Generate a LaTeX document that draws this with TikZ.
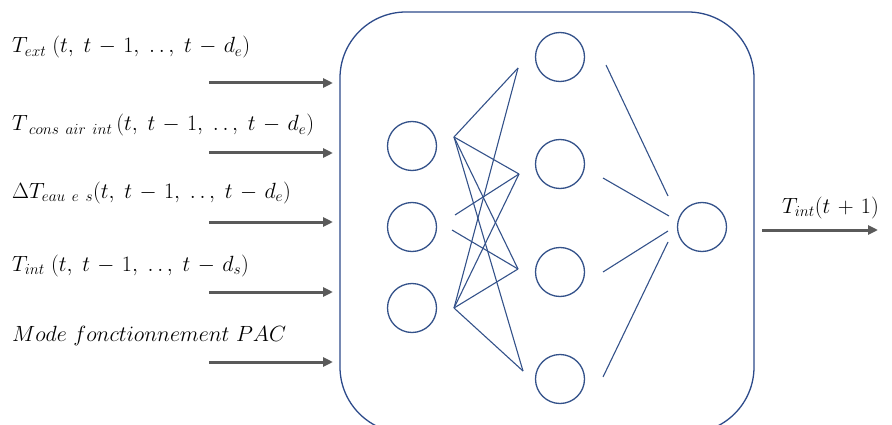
\RequirePackage{fix-cm}
\documentclass[tikz,border=0pt]{standalone}
\usetikzlibrary{arrows.meta}
\definecolor{netblue}{HTML}{34528A}
\definecolor{boxblue}{HTML}{2C4A8A}
\definecolor{arrgray}{HTML}{5A5A5A}
\newcommand{\seqe}[1]{(t,\;t-1,\;.\,.\,,\;t-d_{#1})}
\newcommand{\lblfont}{\fontsize{22}{26}\selectfont\medmuskip=6mu\relax}
\begin{document}
\begin{tikzpicture}[x=1pt,y=-1pt,
  neuron/.style={circle,draw=netblue,line width=1.3pt,minimum size=49pt,inner sep=0pt},
  wire/.style={draw=netblue,line width=1.1pt},
  inarrow/.style={draw=arrgray,line width=3pt,-{Triangle[length=10pt,width=9pt]}},
  lbl/.style={anchor=base west,inner sep=0pt,font=\lblfont}]
\useasboundingbox (0,0) rectangle (892,425);
% container
\node[draw=boxblue,line width=1.3pt,rounded corners=66pt,minimum width=414pt,minimum height=421pt,inner sep=0pt] (box) at (547,222.5) {};
% labels
\node[lbl] (l1) at (12,53) {$T_{ext}\;\seqe{e}$};
\node[lbl] (l2) at (12,131) {$T_{\;cons\ air\ int}\,\seqe{e}$};
\node[lbl] (l3) at (12,198) {$\Delta T_{eau\ e\ s}\seqe{e}$};
\node[lbl] (l4) at (12,271) {$T_{int}\;\seqe{s}$};
\node[lbl] (l5) at (12,341) {$Mode\ fonctionnement\ PAC$};
\node[lbl] (lo) at (782,213) {$T_{int}(t+1)$};
% input arrows
\foreach \k/\y in {1/83,2/153,3/222,4/292,5/362}{
  \coordinate (a\k s) at (209,\y);
  \coordinate (a\k e) at (333,\y);
  \draw[inarrow] (a\k s) -- (a\k e);
}
% output arrow
\coordinate (os) at (762,230);
\coordinate (oe) at (878,230);
\draw[inarrow] (os) -- (oe);
% neurons
\node[neuron] (i1) at (412,146) {};
\node[neuron] (i2) at (412,227) {};
\node[neuron] (i3) at (412,308) {};
\node[neuron] (h1) at (560,57) {};
\node[neuron] (h2) at (560,164) {};
\node[neuron] (h3) at (560,272) {};
\node[neuron] (h4) at (560,379) {};
\node[neuron] (o) at (702,227) {};
% wire end points
\coordinate (p1) at (454,137);
\coordinate (p2a) at (455,215);
\coordinate (p2b) at (452,230);
\coordinate (p3) at (454,308);
\coordinate (q1) at (518,68);
\coordinate (q2) at (519,174);
\coordinate (q3) at (518,269);
\coordinate (q4) at (523,371);
\coordinate (r1) at (606,65);
\coordinate (r2) at (603,178);
\coordinate (r3) at (603,272);
\coordinate (r4) at (603,377);
\coordinate (s1) at (668,196);
\coordinate (s2) at (669,216);
\coordinate (s3) at (668,231);
\coordinate (s4) at (668,242);
% wires
\foreach \q in {q1,q2,q3,q4}{
  \draw[wire] (p1) -- (\q);
  \draw[wire] (p3) -- (\q);
}
\draw[wire] (p2a) -- (q2);
\draw[wire] (p2b) -- (q3);
\draw[wire] (r1) -- (s1);
\draw[wire] (r2) -- (s2);
\draw[wire] (r3) -- (s3);
\draw[wire] (r4) -- (s4);
\end{tikzpicture}
\end{document}
